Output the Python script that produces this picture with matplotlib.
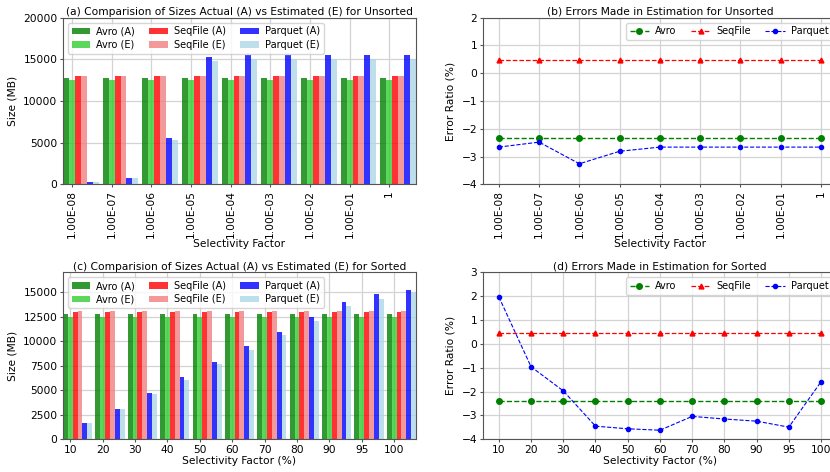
import matplotlib
matplotlib.use("Agg")
import matplotlib.pyplot as plt
import numpy as np

# unsorted data
unsorted_labels = ["1.00E-08", "1.00E-07", "1.00E-06", "1.00E-05", "1.00E-04",
                   "1.00E-03", "1.00E-02", "1.00E-01", "1"]
avro_a_u = [12770] * 9
avro_e_u = [12470] * 9
seq_a_u = [12950] * 9
seq_e_u = [13010] * 9
parq_a_u = [280, 720, 5540, 15280, 15550, 15550, 15550, 15550, 15550]
parq_e_u = [270, 700, 5360, 14840, 15050, 15050, 15050, 15050, 15050]

err_avro_u = [-2.34] * 9
err_seq_u = [0.46] * 9
err_parq_u = [-2.66, -2.48, -3.26, -2.81, -2.66, -2.66, -2.66, -2.66, -2.66]

# sorted data
sorted_labels = ["10", "20", "30", "40", "50", "60", "70", "80", "90", "95", "100"]
avro_a_s = [12770] * 11
avro_e_s = [12470] * 11
seq_a_s = [12950] * 11
seq_e_s = [13010] * 11
parq_a_s = [1626, 3120, 4675, 6300, 7890, 9450, 10910, 12470, 13990, 14800, 15180]
parq_e_s = [1658, 3090, 4580, 6080, 7620, 9110, 10580, 12080, 13550, 14290, 14940]

err_avro_s = [-2.38] * 11
err_seq_s = [0.46] * 11
err_parq_s = [1.97, -0.96, -1.97, -3.45, -3.56, -3.62, -3.04, -3.15, -3.24, -3.49, -1.59]

FS = 7.7
LFS = 7
bar_width = 0.15
SPINE = "#555555"

fig = plt.figure(figsize=(8.3, 4.72), dpi=100)
ax_a = fig.add_axes([0.0759, 0.6095, 0.4253, 0.353])
ax_b = fig.add_axes([0.5816, 0.6095, 0.427, 0.353])
ax_c = fig.add_axes([0.0759, 0.0693, 0.4253, 0.3538])
ax_d = fig.add_axes([0.5816, 0.0693, 0.427, 0.3538])


def style(ax, title, xlabel, ylabel):
    ax.set_ylabel(ylabel, fontsize=FS)
    ax.set_xlabel(xlabel, fontsize=FS, labelpad=1)
    ax.set_title(title, fontsize=FS, pad=2)
    ax.tick_params(labelsize=FS, length=2.5, pad=1.5, color=SPINE)
    ax.grid(True, color="#d3d3d3", linewidth=0.9)
    ax.set_axisbelow(True)
    for s in ax.spines.values():
        s.set_color(SPINE)


def bar_panel(ax, labels, series, title, xlabel, ylim, rot):
    index = np.arange(len(labels))
    names = ["Avro (A)", "Avro (E)", "SeqFile (A)", "SeqFile (E)", "Parquet (A)", "Parquet (E)"]
    colors = ["g", "limegreen", "r", "lightcoral", "b", "lightblue"]
    for i, (vals, name, col) in enumerate(zip(series, names, colors)):
        ax.bar(index + i * bar_width, vals, bar_width, color=col, alpha=0.8, label=name)
    ax.set_xticks(index + bar_width)
    ax.set_xticklabels(labels, rotation=rot)
    ax.set_xlim(index[0] - bar_width / 2, index[-1] + 5.5 * bar_width)
    ax.set_ylim(*ylim)
    style(ax, title, xlabel, "Size (MB)")
    ax.legend(loc="upper left", ncol=3, fontsize=LFS, framealpha=0.8,
              borderpad=0.4, columnspacing=1.5, handlelength=1.9,
              handletextpad=0.6, labelspacing=0.35)


def line_panel(ax, labels, avro, seq, parq, title, xlabel, ylim, rot):
    x = np.arange(len(labels))
    ax.plot(x, avro, "g--", marker="o", markersize=4, linewidth=1, label="Avro")
    ax.plot(x, seq, "r--", marker="^", markersize=3.5, linewidth=0.9, label="SeqFile")
    ax.plot(x, parq, "b--", marker=".", markersize=6, linewidth=0.8, label="Parquet")
    ax.set_xticks(x)
    ax.set_xticklabels(labels, rotation=rot)
    ax.set_ylim(*ylim)
    style(ax, title, xlabel, "Error Ratio (%)")
    ax.legend(loc="upper right", ncol=3, fontsize=LFS, framealpha=0.8,
              borderpad=0.4, columnspacing=1.5, handlelength=2.0,
              handletextpad=0.6)


bar_panel(ax_a, unsorted_labels,
          [avro_a_u, avro_e_u, seq_a_u, seq_e_u, parq_a_u, parq_e_u],
          "(a) Comparision of Sizes Actual (A) vs Estimated (E) for Unsorted",
          "Selectivity Factor", (0, 20000), 90)
line_panel(ax_b, unsorted_labels, err_avro_u, err_seq_u, err_parq_u,
           "(b) Errors Made in Estimation for Unsorted",
           "Selectivity Factor", (-4, 2), 90)
bar_panel(ax_c, sorted_labels,
          [avro_a_s, avro_e_s, seq_a_s, seq_e_s, parq_a_s, parq_e_s],
          "(c) Comparision of Sizes Actual (A) vs Estimated (E) for Sorted",
          "Selectivity Factor (%)", (0, 17000), 0)
ax_c.set_yticks(np.arange(0, 15001, 2500))
line_panel(ax_d, sorted_labels, err_avro_s, err_seq_s, err_parq_s,
           "(d) Errors Made in Estimation for Sorted",
           "Selectivity Factor (%)", (-4, 3), 0)

fig.savefig("out.png", dpi=100)
